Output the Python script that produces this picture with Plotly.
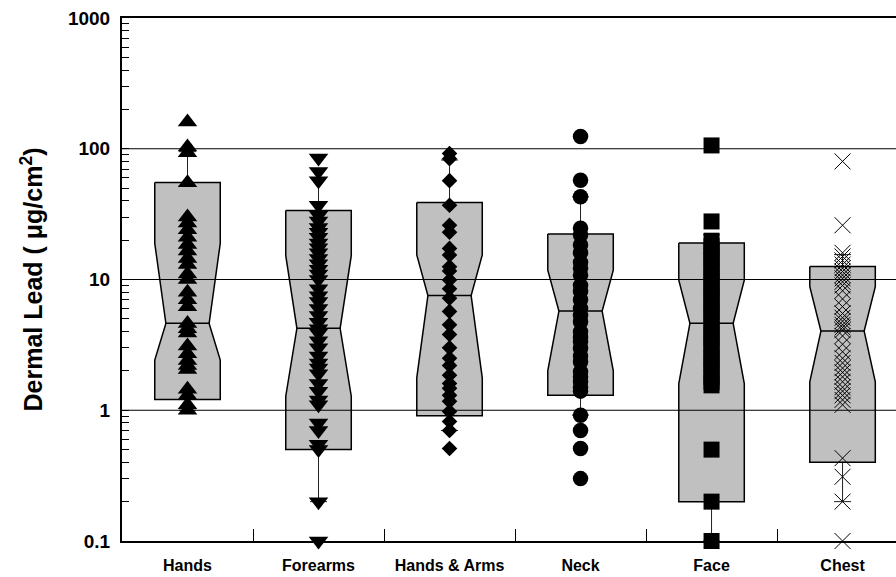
import plotly.graph_objects as go

# Body sites sampled
categories = ["Hands", "Forearms", "Hands & Arms", "Neck", "Face", "Chest"]

# Individual dermal lead measurements (µg/cm²) per body site
hands = [160, 103, 93, 55, 30, 27, 24, 21, 18.5, 16.5, 14.5, 13, 11, 10, 8, 7, 6.2,
         4.6, 4.2, 3.9, 3.1, 2.7, 2.4, 2.2, 2.05, 1.45, 1.3, 1.1, 1.0]
forearms = [85, 67, 57, 37, 31, 28, 25, 23, 21, 19, 17.5, 16, 14.5, 13.2, 12, 11, 10,
            8.5, 7.5, 6.8, 6, 5.3, 4.7, 4.2, 3.9, 3.4, 3, 2.6, 2.3, 2.1, 1.9, 1.6,
            1.4, 1.2, 1.1, 0.8, 0.7, 0.55, 0.5, 0.2, 0.1]
hands_arms = [92, 84, 57, 37, 26, 23, 17.3, 15.4, 12.5, 11.6, 9.9, 8.5, 7.2, 5.7, 4.5,
              3.8, 3.0, 2.5, 2.2, 1.85, 1.6, 1.47, 1.3, 1.17, 0.98, 0.82, 0.70, 0.51]
neck = [124, 57.4, 42.9, 24.7, 21.9, 18.4, 16, 13.5, 12.2, 10.8, 9.0, 8.1, 7, 6.0,
        5.3, 4.76, 3.98, 3.6, 3.34, 2.97, 2.6, 2.35, 1.97, 1.8, 1.65, 1.5, 1.4,
        0.915, 0.70, 0.51, 0.30]
face = [106, 27.8, 19.8, 18, 16.5, 15, 14, 12.5, 11.5, 10.5, 9.5, 8.7, 8, 7.3, 6.7,
        6.1, 5.6, 5.1, 4.6, 4.2, 3.8, 3.5, 3.2, 2.9, 2.6, 2.4, 2.2, 2.0, 1.8, 1.65,
        1.55, 0.5, 0.2, 0.1]
chest = [80, 26, 16, 15, 14, 13, 12.2, 11.5, 10.8, 10.2, 9.6, 9.0, 8.2, 7.1, 6.2,
         5.5, 5.1, 4.8, 4.5, 4.3, 4.1, 3.7, 3.2, 2.8, 2.5, 2.3, 2.1, 1.95, 1.8,
         1.65, 1.5, 1.4, 1.3, 1.2, 1.1, 0.43, 0.31, 0.2, 0.1]
values = [hands, forearms, hands_arms, neck, face, chest]

# Box summary statistics per site
q1 = [1.21, 0.50, 0.906, 1.30, 0.20, 0.40]
notch_lo = [2.42, 1.28, 1.77, 2.0, 1.6, 1.65]
median = [4.62, 4.23, 7.53, 5.74, 4.62, 4.03]
notch_hi = [18.9, 15.2, 15.4, 11.8, 9.9, 8.8]
q3 = [55.3, 33.7, 38.8, 22.3, 19.0, 12.6]
whisker_lo = [1.0, 0.2, 0.7, 0.92, 0.1, 0.2]
whisker_hi = [95, 60, 82, 42.9, 22, 15.5]

symbols = ["triangle-up", "triangle-down", "diamond", "circle", "square", "x-thin-open"]
marker_sizes = [17, 17, 12, 15.5, 16, 16]

BW = 0.25    # box half width (category units)
NW = 0.165   # half width of the notch waist
CW = 0.065   # whisker cap half width

fig = go.Figure()

# whiskers with caps
wx, wy = [], []
for i in range(len(categories)):
    wx += [i, i, None, i, i, None,
           i - CW, i + CW, None, i - CW, i + CW, None]
    wy += [q3[i], whisker_hi[i], None, q1[i], whisker_lo[i], None,
           whisker_hi[i], whisker_hi[i], None, whisker_lo[i], whisker_lo[i], None]
fig.add_trace(go.Scatter(x=wx, y=wy, mode="lines",
                         line=dict(color="#222222", width=1),
                         hoverinfo="skip", showlegend=False))

# notched boxes
bx, by = [], []
for i in range(len(categories)):
    bx += [i - BW, i + BW, i + BW, i + NW, i + BW, i + BW,
           i - BW, i - BW, i - NW, i - BW, i - BW, None]
    by += [q3[i], q3[i], notch_hi[i], median[i], notch_lo[i], q1[i],
           q1[i], notch_lo[i], median[i], notch_hi[i], q3[i], None]
fig.add_trace(go.Scatter(x=bx, y=by, mode="lines", fill="toself",
                         fillcolor="#c0c0c0",
                         line=dict(color="black", width=1.5),
                         hoverinfo="skip", showlegend=False))

# median lines
mx, my = [], []
for i in range(len(categories)):
    mx += [i - NW, i + NW, None]
    my += [median[i], median[i], None]
fig.add_trace(go.Scatter(x=mx, y=my, mode="lines",
                         line=dict(color="black", width=1.5),
                         hoverinfo="skip", showlegend=False))

# individual measurements
for i, name in enumerate(categories):
    is_open = symbols[i].endswith("open")
    fig.add_trace(go.Scatter(
        x=[i] * len(values[i]), y=values[i], mode="markers", name=name,
        cliponaxis=False, showlegend=False,
        marker=dict(symbol=symbols[i], size=marker_sizes[i], color="black",
                    line=dict(color="black", width=1 if is_open else 0)),
    ))

# decade reference lines drawn over the boxes
for v in [1, 10, 100]:
    fig.add_shape(type="line", xref="paper", x0=0, x1=1, yref="y", y0=v, y1=v,
                  line=dict(color="black", width=1), layer="above")

font_family = "Liberation Sans, Arial, sans-serif"
minor_y = [m * 10 ** e for e in range(-1, 3) for m in range(2, 10)]

fig.update_layout(
    width=896, height=577,
    margin=dict(l=122, r=0, t=18, b=36),
    paper_bgcolor="white", plot_bgcolor="white",
    font=dict(family=font_family, color="black"),
    showlegend=False,
    xaxis=dict(
        type="linear", range=[-0.5, 5.408],
        tickmode="array", tickvals=list(range(len(categories))), ticktext=categories,
        ticks="", showgrid=False, zeroline=False,
        showline=True, linecolor="black", linewidth=2, mirror=True,
        tickfont=dict(size=16, family=font_family, weight="bold"),
        ticklabelstandoff=9,
        minor=dict(tickmode="array",
                   tickvals=[i + 0.5 for i in range(len(categories) - 1)],
                   ticks="inside", ticklen=12, tickwidth=1, tickcolor="black",
                   showgrid=False),
    ),
    yaxis=dict(
        type="log", range=[-1, 3],
        tickmode="array", tickvals=[0.1, 1, 10, 100, 1000],
        ticktext=["0.1", "1", "10", "100", "1000"],
        ticks="inside", ticklen=7, tickwidth=1, tickcolor="black",
        showgrid=False, zeroline=False,
        showline=True, linecolor="black", linewidth=2,
        tickfont=dict(size=19, family=font_family, weight="bold"),
        ticklabelstandoff=6,
        minor=dict(tickmode="array", tickvals=minor_y,
                   ticks="inside", ticklen=7, tickwidth=1, tickcolor="black",
                   showgrid=False),
        title=dict(text="Dermal Lead ( μg/cm<sup>2</sup>)",
                   font=dict(size=25, family=font_family, weight="bold"),
                   standoff=18),
    ),
)

fig.write_html("out.html")
